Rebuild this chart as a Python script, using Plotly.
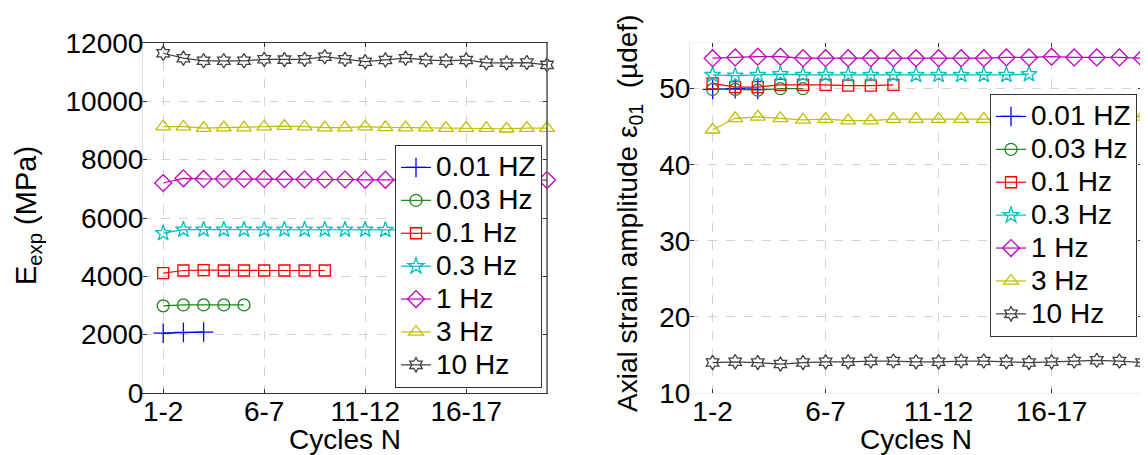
import plotly.graph_objects as go

# ---------------- data ----------------
series_names = ["0.01 HZ", "0.03 Hz", "0.1 Hz", "0.3 Hz", "1 Hz", "3 Hz", "10 Hz"]
tick_vals = [1, 6, 11, 16]
tick_text = ["1-2", "6-7", "11-12", "16-17"]

# Left: E_exp (MPa)
E_001 = [2050, 2080, 2090]
E_003 = [2990, 3020, 3020, 3020, 3020]
E_01 = [4110, 4200, 4210, 4200, 4200, 4200, 4200, 4200, 4200]
E_03 = [5480, 5600, 5600, 5600, 5600, 5600, 5600, 5600, 5600, 5600, 5600, 5590, 5590, 5590, 5590]
E_1 = [7200, 7360, 7340, 7340, 7340, 7340, 7330, 7320, 7320, 7320,
       7310, 7310, 7310, 7300, 7300, 7300, 7300, 7300, 7300, 7300]
E_3 = [9130, 9130, 9080, 9100, 9100, 9130, 9150, 9130, 9100, 9100,
       9130, 9110, 9100, 9100, 9080, 9080, 9080, 9060, 9080, 9080]
E_10 = [11650, 11480, 11390, 11390, 11390, 11440, 11430, 11440, 11530, 11440,
        11360, 11420, 11480, 11420, 11390, 11420, 11320, 11320, 11330, 11250]

# Right: axial strain amplitude (µdef)
S_001 = [49.9, 50.0, 49.9]
S_003 = [49.9, 49.9, 49.8, 50.0, 50.0]
S_01 = [50.7, 50.2, 50.2, 50.5, 50.5, 50.5, 50.4, 50.4, 50.5]
S_03 = [51.8, 51.7, 51.8, 51.9, 51.8, 51.8, 51.8, 51.8, 51.8, 51.8, 51.8, 51.8, 51.8, 51.8, 51.9]
S_1 = [54.0, 54.1, 54.2, 54.2, 54.0, 54.0, 54.0, 54.0, 54.0, 54.0,
       54.0, 54.0, 54.0, 54.1, 54.1, 54.2, 54.1, 54.1, 54.1, 54.0]
S_3 = [44.6, 46.1, 46.3, 46.1, 45.9, 46.0, 45.8, 45.8, 46.0, 46.0,
       46.0, 46.0, 46.0, 46.0, 46.0, 46.0, 46.0, 46.1, 46.1, 46.3]
S_10 = [14.0, 14.1, 14.0, 13.8, 14.0, 14.1, 14.1, 14.2, 14.2, 14.1,
        14.1, 14.2, 14.2, 14.1, 14.0, 14.1, 14.2, 14.3, 14.2, 14.0]

left_data = [E_001, E_003, E_01, E_03, E_1, E_3, E_10]
right_data = [S_001, S_003, S_01, S_03, S_1, S_3, S_10]

# ---------------- style ----------------
colors = ["#0000FF", "#1E841E", "#FF0000", "#00BFBF", "#BF00BF", "#BFBF00", "#404040"]
symbols = ["cross-thin-open", "circle-open", "square-open", "star-open",
           "diamond-open", "triangle-up-open", "hexagram-open"]
sizes = [14, 12, 11, 12, 13, 13, 11]
FONT = "Liberation Sans, Arial, sans-serif"
FS = 28
LEG_FS = 23

fig = go.Figure()


def add(data, xa, ya, legend):
    for name, vals, c, s, sz in zip(series_names, data, colors, symbols, sizes):
        fig.add_trace(go.Scatter(
            x=list(range(1, len(vals) + 1)), y=vals,
            name='<span style="font-size:28px">' + name + '</span>',
            mode="lines+markers", xaxis=xa, yaxis=ya, legend=legend,
            cliponaxis=False,
            line=dict(color=c, width=1.2),
            marker=dict(symbol=s, size=sz, color=c, line=dict(color=c, width=1.3)),
        ))


add(left_data, "x", "y", "legend")
add(right_data, "x2", "y2", "legend2")

W, H = 1148, 455
OFF = 8  # page body margin shifts the figure by this many pixels


def px(x):
    return (x - OFF) / W


def py(y):
    return 1 - (y - OFF) / H


common_x = dict(range=[0, 20], tickmode="array", tickvals=tick_vals, ticktext=tick_text,
                showgrid=True, gridcolor="#d4d4d4", griddash="dash", gridwidth=1,
                ticks="inside", ticklen=4, tickcolor="#333", zeroline=False, automargin=False,
                tickfont=dict(family=FONT, size=FS, color="black"), ticklabelstandoff=-7)
common_y = dict(showgrid=True, gridcolor="#d4d4d4", griddash="dash", gridwidth=1,
                ticks="inside", ticklen=4, tickcolor="#333", zeroline=False, automargin=False,
                tickformat="d",
                tickfont=dict(family=FONT, size=FS, color="black"), ticklabelstandoff=-7)

legend_common = dict(font=dict(family=FONT, size=LEG_FS, color="black"), bgcolor="white",
                     bordercolor="#333", borderwidth=1, xanchor="right", yanchor="bottom",
                     tracegroupgap=0, itemwidth=30)

fig.update_layout(
    width=W, height=H, margin=dict(l=0, r=0, t=0, b=0, autoexpand=False),
    autosize=False,
    paper_bgcolor="white", plot_bgcolor="white",
    font=dict(family=FONT, size=FS, color="black"),
    xaxis=dict(domain=[px(143), px(547)], anchor="y", showline=True, linecolor="#333", mirror="ticks", **common_x),
    yaxis=dict(domain=[py(393), py(43)], anchor="x", range=[0, 12000],
               tickvals=[0, 2000, 4000, 6000, 8000, 10000, 12000],
               showline=True, linecolor="#e2e2e2", mirror="ticks", **common_y),
    xaxis2=dict(domain=[px(690), px(1142)], anchor="y2", showline=True, linecolor="#f0f0f0", mirror="ticks", **common_x),
    yaxis2=dict(domain=[py(393), py(43)], anchor="x2", range=[10, 56], tickvals=[10, 20, 30, 40, 50],
                showline=True, linecolor="#e6e6e6", mirror="ticks", **common_y),
    legend=dict(x=px(542), y=py(388), **legend_common),
    legend2=dict(x=px(1137), y=py(337), **legend_common),
    showlegend=True,
)

# right-hand frame borders
for xr, yr in [("x domain", "y domain"), ("x2 domain", "y2 domain")]:
    fig.add_shape(type="line", xref=xr, yref=yr, x0=1, x1=1, y0=0, y1=1,
                  line=dict(color="#333", width=1.2))

# axis titles
fig.add_annotation(text="E<sub>exp</sub> (MPa)", xref="paper", yref="paper",
                   x=px(28), y=py(216), textangle=-90, showarrow=False,
                   font=dict(family=FONT, size=29), xanchor="center", yanchor="middle")
fig.add_annotation(text="Axial strain amplitude ε<sub>01</sub>  (µdef)", xref="paper", yref="paper",
                   x=px(630), y=py(214), textangle=-90, showarrow=False,
                   font=dict(family=FONT, size=28), xanchor="center", yanchor="middle")
for cx in [(143 + 547) / 2, (690 + 1142) / 2]:
    fig.add_annotation(text="Cycles N", xref="paper", yref="paper",
                       x=px(cx), y=py(439), showarrow=False,
                       font=dict(family=FONT, size=FS), xanchor="center", yanchor="middle")

fig.write_html("out.html")
